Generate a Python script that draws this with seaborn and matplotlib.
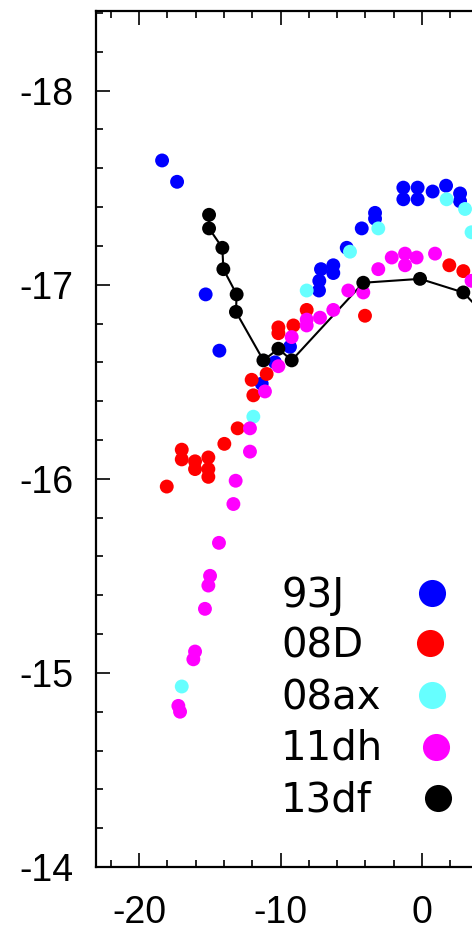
import numpy as np
import pandas as pd
import matplotlib
matplotlib.use("Agg")
import matplotlib.pyplot as plt
from matplotlib.lines import Line2D
from matplotlib.ticker import MultipleLocator
import seaborn as sns

# ---- data ----
sn93J_x = [-18.37, -17.31, -15.29, -14.32, -11.33, -10.39, -9.33, -7.28, -7.26, -7.14, -6.27, -6.27,
           -5.32, -4.26, -3.32, -3.32, -1.32, -1.32, -0.31, -0.31, 0.75, 1.70, 2.69, 2.69]
sn93J_y = [-17.64, -17.53, -16.95, -16.66, -16.49, -16.60, -16.68, -16.97, -17.02, -17.08, -17.10, -17.06,
           -17.19, -17.29, -17.37, -17.34, -17.50, -17.44, -17.50, -17.44, -17.48, -17.51, -17.47, -17.43]

sn08D_x = [-18.04, -16.98, -16.98, -16.04, -16.04, -15.10, -15.10, -15.10, -13.97, -13.03, -12.04, -11.92,
           -10.98, -10.15, -10.15, -9.09, -8.15, -4.03, 1.93, 2.92]
sn08D_y = [-15.96, -16.15, -16.10, -16.09, -16.05, -16.11, -16.05, -16.01, -16.18, -16.26, -16.51, -16.43,
           -16.54, -16.78, -16.75, -16.79, -16.87, -16.84, -17.10, -17.07]

sn08ax_x = [-16.98, -11.92, -8.15, -5.09, -3.09, 1.74, 3.04, 3.50]
sn08ax_y = [-14.93, -16.32, -16.97, -17.17, -17.29, -17.44, -17.39, -17.27]

sn11dh_x = [-17.22, -17.10, -16.16, -16.04, -15.34, -15.10, -14.98, -14.35, -13.33, -13.17, -12.16, -12.16,
            -11.10, -10.15, -9.21, -8.15, -8.15, -7.21, -6.27, -5.21, -4.15, -3.09, -2.14, -1.20, -1.20,
            -0.38, 0.92, 3.50]
sn11dh_y = [-14.83, -14.80, -15.07, -15.11, -15.33, -15.45, -15.50, -15.67, -15.87, -15.99, -16.14, -16.26,
            -16.45, -16.58, -16.73, -16.82, -16.79, -16.83, -16.87, -16.97, -16.96, -17.08, -17.14, -17.16, -17.10,
            -17.14, -17.16, -17.02]

sn13df_x = [-15.05, -15.05, -14.11, -14.04, -13.10, -13.15, -11.21, -10.15, -9.21, -4.15, -0.14, 2.92, 5.0]
sn13df_y = [-17.36, -17.29, -17.19, -17.08, -16.95, -16.86, -16.61, -16.67, -16.61, -17.01, -17.03, -16.96, -16.80]

names = ["93J", "08D", "08ax", "11dh", "13df"]
colors = ["#0000FF", "#FF0000", "#66FFFF", "#FF00FF", "#000000"]
xs = [sn93J_x, sn08D_x, sn08ax_x, sn11dh_x, sn13df_x]
ys = [sn93J_y, sn08D_y, sn08ax_y, sn11dh_y, sn13df_y]

x_ticks = [-20, -10, 0]
y_ticks = [-18, -17, -16, -15, -14]

frames = [pd.DataFrame({"phase": x, "mag": y, "sn": n}) for n, x, y in zip(names, xs, ys)]
df = pd.concat(frames, ignore_index=True)

sns.set_style("ticks")
plt.rcParams["font.family"] = ["Liberation Sans", "DejaVu Sans"]

W, H = 472, 932
fig = plt.figure(figsize=(W / 100, H / 100), dpi=100)
# axes extends beyond the right edge (cropped reference)
x0, x1 = -23.04, 10.0
px_per_unit = 14.15
left_px, top_px, bot_px = 96, 11, 867
ax_w_px = (x1 - x0) * px_per_unit
ax = fig.add_axes([left_px / W, 1 - bot_px / H, ax_w_px / W, (bot_px - top_px) / H])

df13 = df[df["sn"] == "13df"]
sns.lineplot(data=df13, x="phase", y="mag", estimator=None, sort=False, color="black",
             linewidth=1.5, ax=ax, zorder=2)
sns.scatterplot(data=df, x="phase", y="mag", hue="sn", hue_order=names, palette=colors,
                s=100, linewidth=0, legend=False, ax=ax, zorder=3)

ax.set_xlim(x0, x1)
ax.set_ylim(-14, -18.41)
ax.set_xticks(x_ticks)
ax.set_yticks(y_ticks)
ax.set_xticklabels([str(t) for t in x_ticks])
ax.set_yticklabels([str(t) for t in y_ticks])
ax.xaxis.set_minor_locator(MultipleLocator(2))
ax.yaxis.set_minor_locator(MultipleLocator(0.2))
ax.set_xlabel("")
ax.set_ylabel("")

for side in ["left", "top", "bottom", "right"]:
    ax.spines[side].set_linewidth(1.6)
    ax.spines[side].set_color("black")
ax.spines["right"].set_visible(False)
ax.tick_params(axis="both", which="both", direction="in", top=True, right=False, color="black", width=1.2)
ax.tick_params(axis="both", which="major", length=10, labelsize=27, colors="black")
ax.tick_params(axis="both", which="minor", length=5)
ax.tick_params(axis="y", which="major", pad=16)
ax.tick_params(axis="x", which="major", pad=20)

# legend: labels left-aligned, markers on the right
leg_text_x = 281
leg_base_y = [607, 658, 709, 760, 811]
leg_mark_x = [432, 430, 432, 436, 438]
leg_mark_y = [593, 643, 695, 747, 798]
for n, c, by, mx, my in zip(names, colors, leg_base_y, leg_mark_x, leg_mark_y):
    fig.text(leg_text_x / W, 1 - by / H, n, fontsize=29, family="DejaVu Sans",
             ha="left", va="baseline", color="black")
    fig.add_artist(Line2D([mx / W], [1 - my / H], marker="o", markersize=19.5, color=c,
                          markeredgewidth=0, linestyle="none", transform=fig.transFigure))

fig.savefig("out.png", dpi=100)
